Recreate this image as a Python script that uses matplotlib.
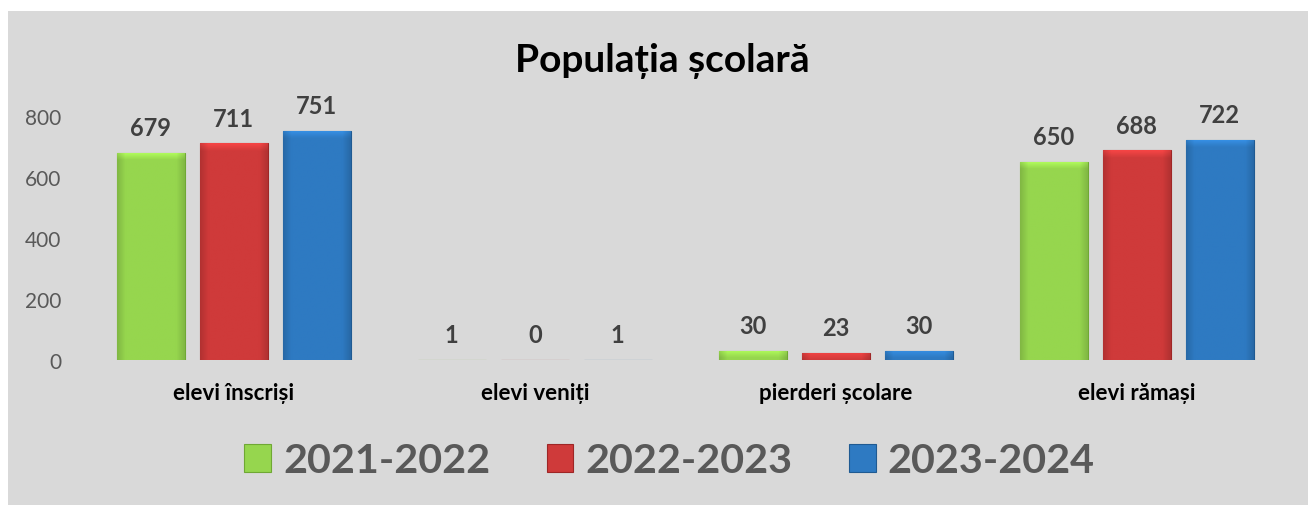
import matplotlib
matplotlib.use("Agg")
import matplotlib.pyplot as plt
import numpy as np
from matplotlib.patches import Rectangle
from matplotlib.colors import to_rgb

categories = ["elevi înscriși", "elevi veniți", "pierderi școlare", "elevi rămași"]
series_names = ["2021-2022", "2022-2023", "2023-2024"]
v2021 = [679, 1, 30, 650]
v2022 = [711, 0, 23, 688]
v2023 = [751, 1, 30, 722]
yticks = [0, 200, 400, 600, 800]
title = "Populația școlară"

colors = ["#96D64E", "#CF3A3A", "#2E7AC2"]
edges = ["#6FA834", "#9E2626", "#1F5A92"]

plt.rcParams['font.family'] = ['Lato', 'DejaVu Sans']

W, H = 1308, 506
fig = plt.figure(figsize=(W / 100, H / 100), dpi=100)
fig.patch.set_facecolor("white")
fig.patches.append(Rectangle((8 / W, 0), 1 - 8 / W, 1 - 12 / H, transform=fig.transFigure,
                             facecolor="#D9D9D9", edgecolor="none", zorder=-10))

ax = fig.add_axes([83.5 / W, 1 - 361 / H, (1287 - 83.5) / W, (361 - 117) / H])
ax.set_facecolor("none")
for s in ax.spines.values():
    s.set_visible(False)

ax.set_xlim(-0.5, len(categories) - 0.5)
ax.set_ylim(0, 800)

x = np.arange(len(categories))
bw = 0.226
off = 0.276
px_per_unit = (361 - 117) / 800.0


def shaded(bar, base):
    x0, y0 = bar.get_x(), bar.get_y()
    w, h = bar.get_width(), bar.get_height()
    if h <= 0:
        return
    nx, ny = 60, 120
    t = np.linspace(0, 1, nx)
    horiz = 0.86 + 0.14 * np.clip(np.minimum(t, 1 - t) / 0.12, 0, 1)
    yy = np.linspace(0, h, ny)  # bottom to top
    dist_top_px = (h - yy) * px_per_unit
    vert = 1.0 + 0.18 * np.clip(1 - dist_top_px / 7.0, 0, 1)
    rgb = np.array(to_rgb(base))
    img = rgb[None, None, :] * horiz[None, :, None] * vert[:, None, None]
    img = np.clip(img, 0, 1)
    im = ax.imshow(img, extent=(x0, x0 + w, y0, y0 + h), origin="lower",
                   aspect="auto", interpolation="bilinear", zorder=3)
    im.set_clip_path(bar)


for i, (vals, c, e) in enumerate(zip([v2021, v2022, v2023], colors, edges)):
    pos = x + (i - 1) * off
    bars = ax.bar(pos, vals, width=bw, color=c, edgecolor=e, linewidth=0.8, zorder=2)
    for b in bars:
        shaded(b, c)
    for px, v in zip(pos, vals):
        ax.annotate(str(v), (px, v), xytext=(0, 18), textcoords="offset points",
                    ha="center", va="center", fontsize=17, fontweight="bold",
                    color="#404040", annotation_clip=False)

ax.set_xlim(-0.5, len(categories) - 0.5)
ax.set_ylim(0, 800)
ax.set_yticks(yticks)
ax.set_yticklabels([str(t) for t in yticks], fontsize=15, color="#595959")
ax.set_xticks(x)
ax.set_xticklabels(categories, fontsize=16, fontweight="bold", color="black")
ax.tick_params(axis="both", length=0)
ax.tick_params(axis="y", pad=16)
ax.tick_params(axis="x", pad=16)

fig.text(662 / W, 1 - 61 / H, title, ha="center", va="center",
         fontsize=28, fontweight="bold", color="black")

handles = [Rectangle((0, 0), 1, 1, facecolor=c, edgecolor=e, linewidth=0.8)
           for c, e in zip(colors, edges)]
leg = fig.legend(handles, series_names, loc="center", bbox_to_anchor=(669.5 / W, 1 - 462 / H),
                 ncol=3, frameon=False, handlelength=0.65, handleheight=0.67,
                 handletextpad=0.29, columnspacing=1.37,
                 prop={"family": ["Lato", "DejaVu Sans"], "weight": "bold", "size": 29.7})
for t in leg.get_texts():
    t.set_color("#595959")

fig.savefig("out.png", dpi=100, facecolor=fig.get_facecolor())
